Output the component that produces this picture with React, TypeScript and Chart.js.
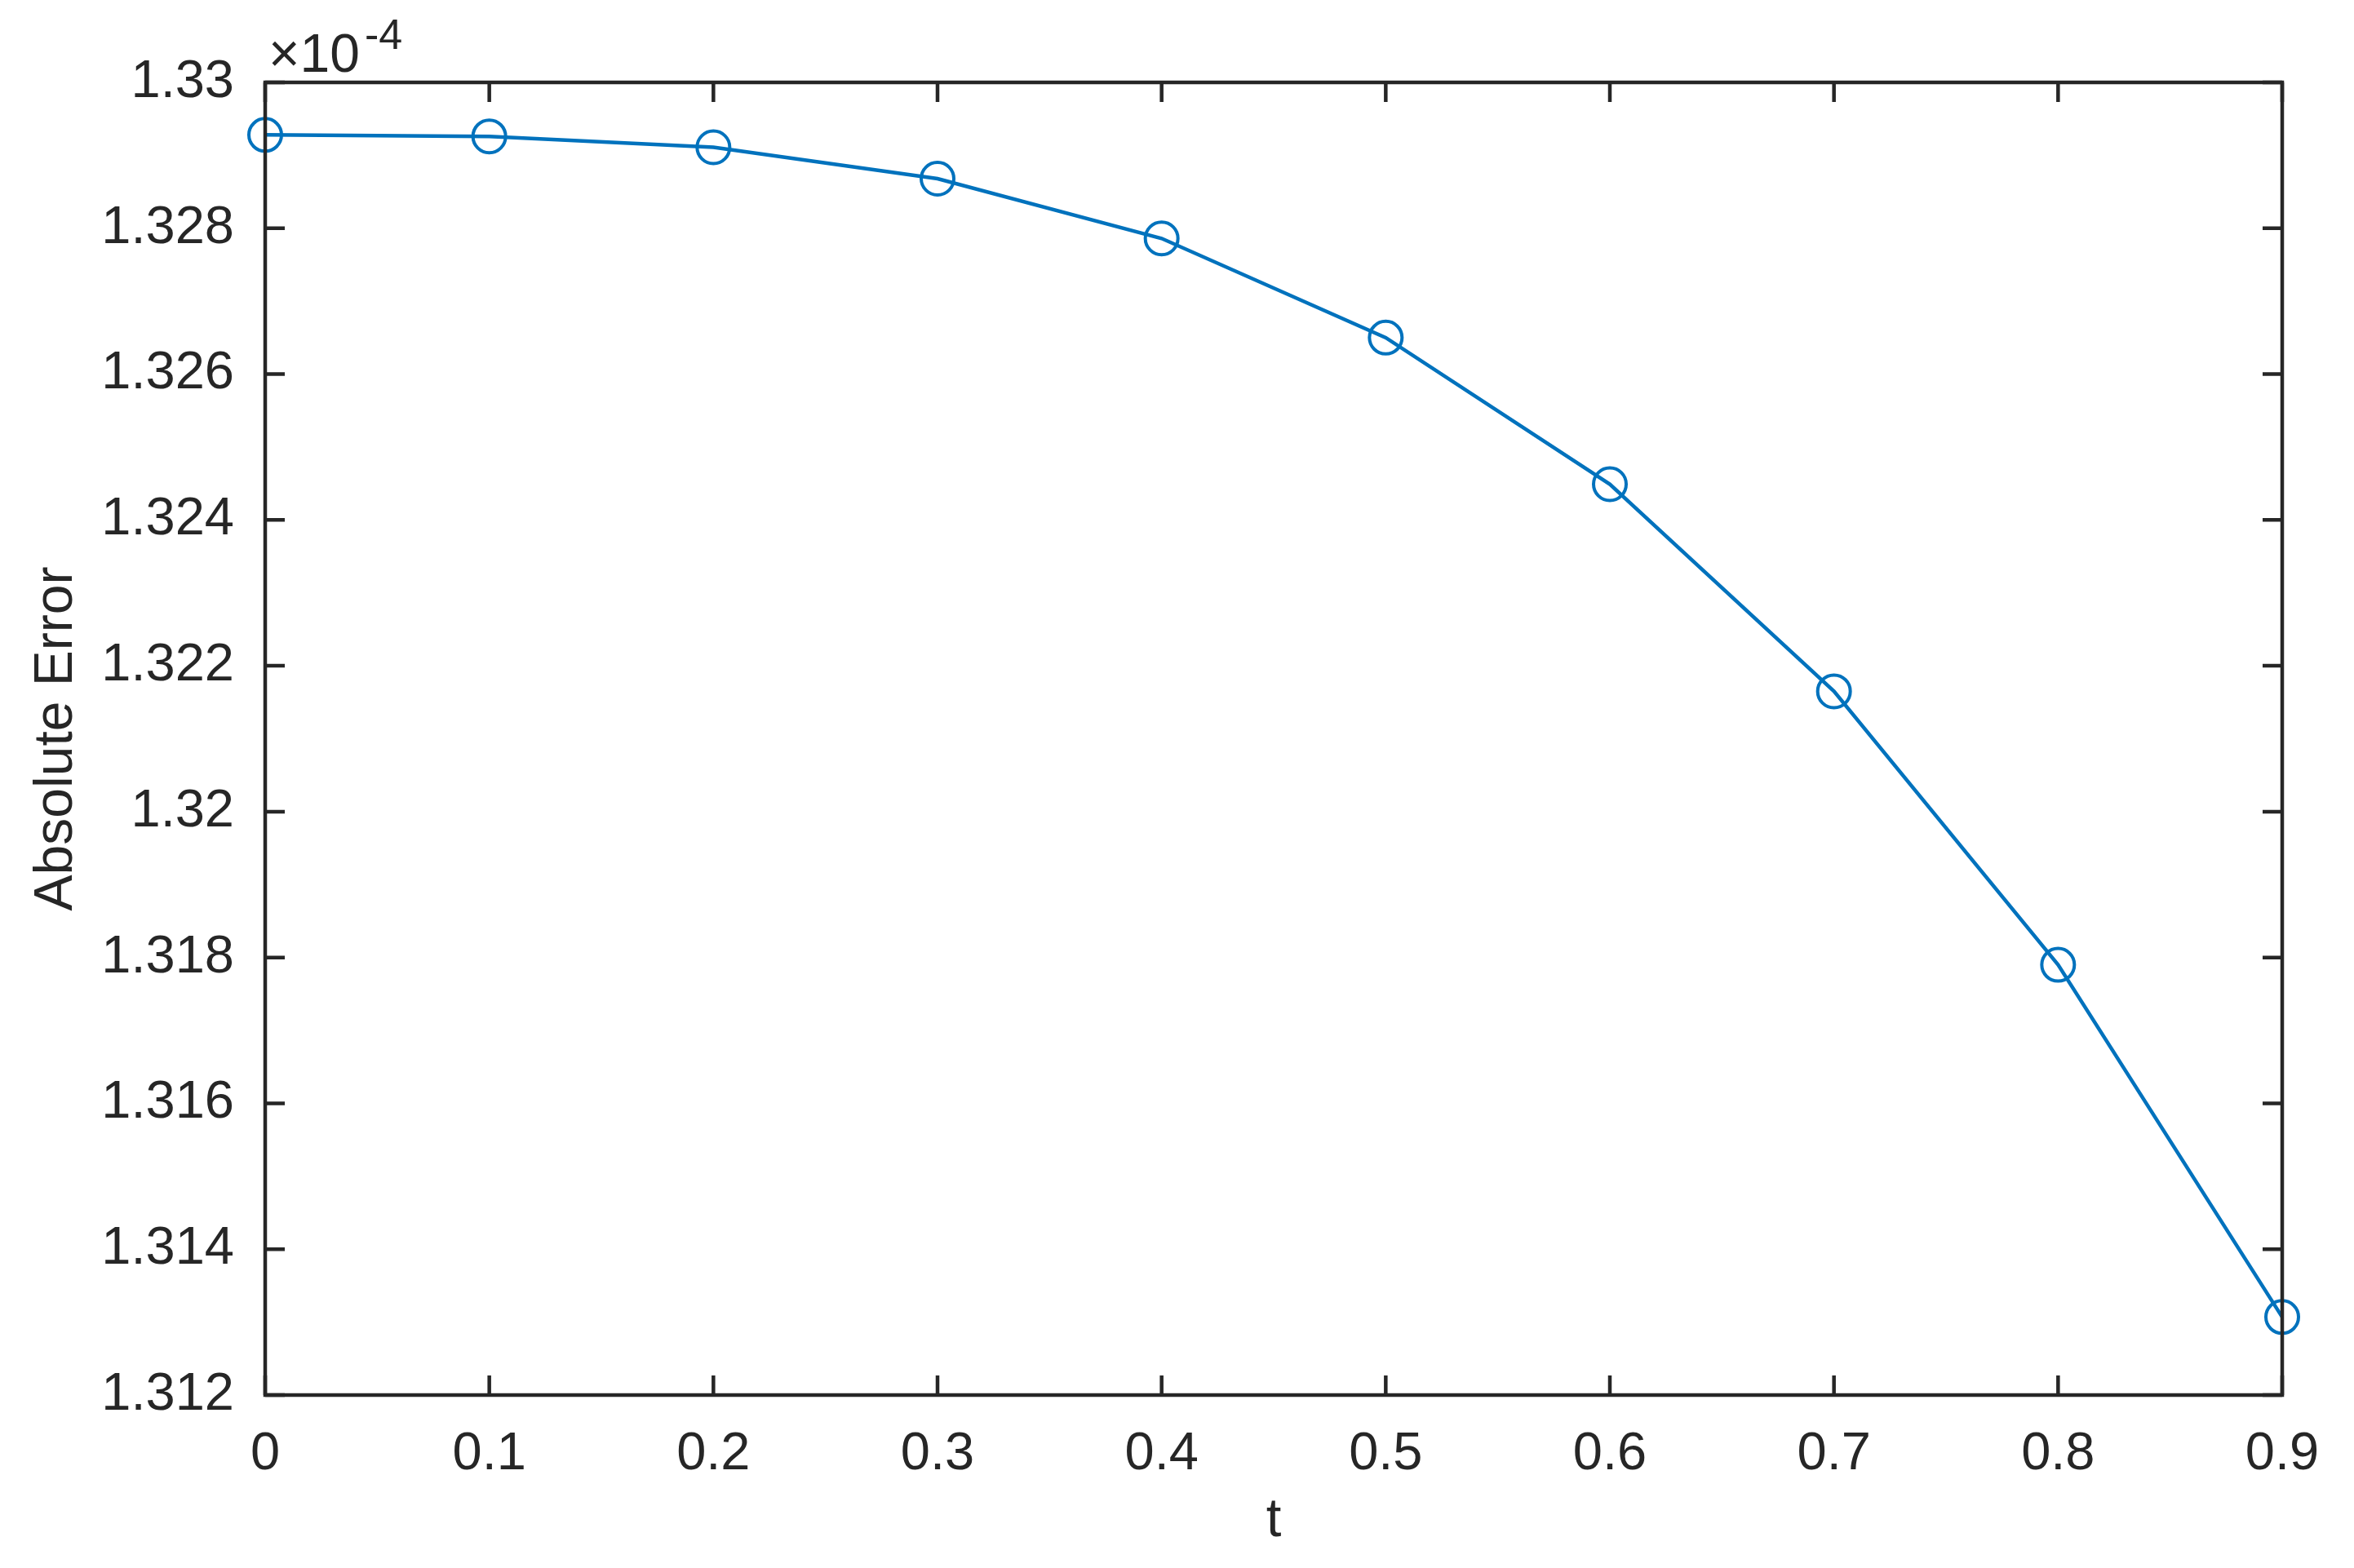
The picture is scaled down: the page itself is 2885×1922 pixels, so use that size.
import React, { useEffect, useRef } from "react";
import { Chart, registerables } from "chart.js";

Chart.register(...registerables);

const tValues = [0, 0.1, 0.2, 0.3, 0.4, 0.5, 0.6, 0.7, 0.8, 0.9];
const errorValues = [1.32928, 1.32926, 1.32911, 1.32868, 1.32786, 1.3265, 1.32449, 1.32165, 1.3179, 1.31307];
const xTicks = [0, 0.1, 0.2, 0.3, 0.4, 0.5, 0.6, 0.7, 0.8, 0.9];
const yTicks = [1.312, 1.314, 1.316, 1.318, 1.32, 1.322, 1.324, 1.326, 1.328, 1.33];
const xTitle = "t";
const yTitle = "Absolute Error";
const exponentBase = "\u00d710";
const exponentPower = "-4";

const W = 2885;
const H = 1922;
const FONT = "'Liberation Sans', Arial, Helvetica, sans-serif";
const AXIS = "#262626";
const BLUE = "#0072BD";

const boxPlugin = {
  id: "matlabBox",
  afterDatasetsDraw(chart: any) {
    const { ctx, chartArea, scales } = chart;
    const { left, right, top, bottom } = chartArea;
    ctx.save();
    ctx.strokeStyle = AXIS;
    ctx.lineWidth = 4.5;
    ctx.lineCap = "butt";
    const tl = 24;
    ctx.beginPath();
    for (const v of xTicks) {
      const x = scales.x.getPixelForValue(v);
      ctx.moveTo(x, bottom);
      ctx.lineTo(x, bottom - tl);
      ctx.moveTo(x, top);
      ctx.lineTo(x, top + tl);
    }
    for (const v of yTicks) {
      const y = scales.y.getPixelForValue(v);
      ctx.moveTo(left, y);
      ctx.lineTo(left + tl, y);
      ctx.moveTo(right, y);
      ctx.lineTo(right - tl, y);
    }
    ctx.stroke();
    ctx.strokeRect(left, top, right - left, bottom - top);
    ctx.restore();
  },
  afterDraw(chart: any) {
    const { ctx, chartArea } = chart;
    ctx.save();
    ctx.fillStyle = AXIS;
    ctx.textBaseline = "alphabetic";
    ctx.textAlign = "left";
    ctx.font = `66px ${FONT}`;
    const x0 = chartArea.left + 4;
    ctx.fillText(exponentBase, x0, 88);
    const w = ctx.measureText(exponentBase).width;
    ctx.font = `52px ${FONT}`;
    ctx.fillText(exponentPower, x0 + w + 6, 60);
    ctx.restore();
  },
};

export default function App() {
  const ref = useRef<HTMLCanvasElement | null>(null);

  useEffect(() => {
    if (!ref.current) return;
    const chart = new Chart(ref.current, {
      type: "line",
      data: {
        datasets: [
          {
            data: tValues.map((t, i) => ({ x: t, y: errorValues[i] })),
            borderColor: BLUE,
            borderWidth: 4.5,
            pointStyle: "circle",
            pointRadius: 20,
            pointBorderWidth: 4,
            pointBorderColor: BLUE,
            pointBackgroundColor: "rgba(0,0,0,0)",
            tension: 0,
            fill: false,
            clip: false as any,
          },
        ],
      },
      options: {
        responsive: false,
        animation: false,
        devicePixelRatio: 1,
        layout: { padding: { left: 0, right: 88, top: 101, bottom: 0 } },
        plugins: {
          legend: { display: false },
          tooltip: { enabled: false },
        },
        scales: {
          x: {
            type: "linear",
            min: 0,
            max: 0.9,
            grid: { display: false },
            border: { display: false },
            afterFit: (s: any) => {
              s.height = 212;
            },
            afterBuildTicks: (s: any) => {
              s.ticks = xTicks.map((v) => ({ value: v }));
            },
            ticks: {
              color: AXIS,
              padding: 26,
              maxRotation: 0,
              autoSkip: false,
              font: { family: FONT, size: 65 },
              callback: (v: any) => String(Number(Number(v).toFixed(2))),
            },
            title: {
              display: true,
              text: xTitle,
              color: AXIS,
              font: { family: FONT, size: 67 },
              padding: { top: 0, bottom: 17 },
            },
          },
          y: {
            type: "linear",
            min: 1.312,
            max: 1.33,
            grid: { display: false },
            border: { display: false },
            afterFit: (s: any) => {
              s.width = 325;
            },
            afterBuildTicks: (s: any) => {
              s.ticks = yTicks.map((v) => ({ value: v }));
            },
            ticks: {
              color: AXIS,
              padding: 30,
              autoSkip: false,
              font: { family: FONT, size: 65 },
              callback: (v: any) => String(Number(Number(v).toFixed(3))),
            },
            title: {
              display: true,
              text: yTitle,
              color: AXIS,
              font: { family: FONT, size: 66 },
              padding: { top: 30, bottom: 0 },
            },
          },
        },
      },
      plugins: [boxPlugin],
    });
    return () => chart.destroy();
  }, []);

  return (
    <div style={{ position: "absolute", left: 0, top: 0, width: W, height: H, background: "#fff" }}>
      <canvas ref={ref} width={W} height={H} style={{ display: "block", width: W, height: H }} />
    </div>
  );
}
